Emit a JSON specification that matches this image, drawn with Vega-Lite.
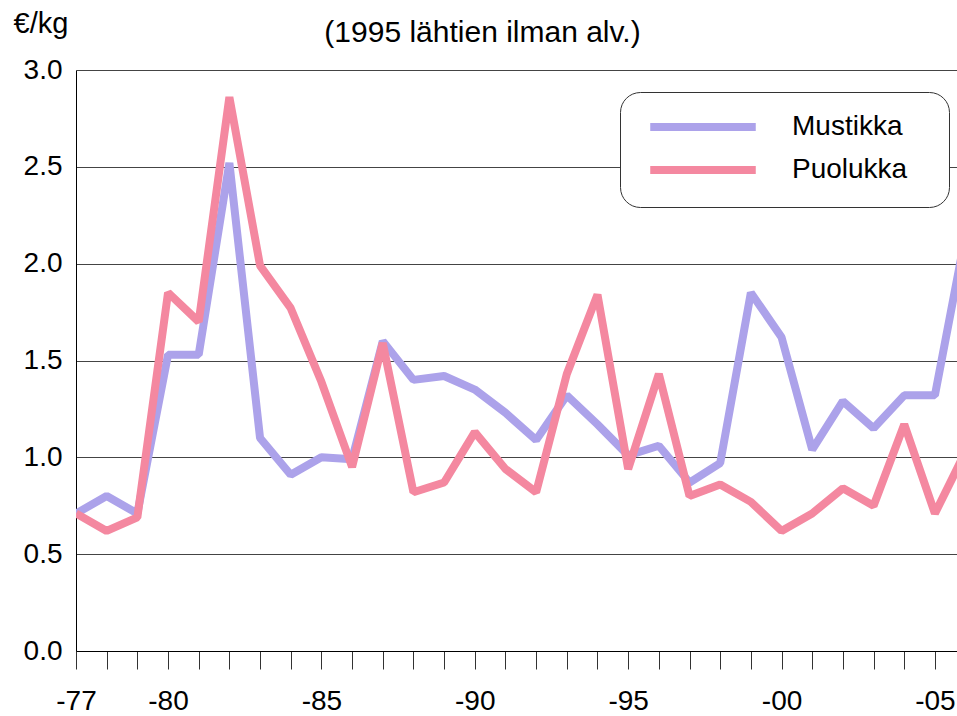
{
  "$schema": "https://vega.github.io/schema/vega-lite/v6.json",
  "width": 881,
  "height": 581,
  "autosize": "none",
  "padding": {"left": 76, "top": 70, "right": 0, "bottom": 65},
  "background": "white",
  "config": {
    "view": {"stroke": null},
    "font": "Liberation Sans"
  },
  "title": {
    "text": "(1995 lähtien ilman alv.)",
    "frame": "group",
    "anchor": "middle",
    "dx": -34,
    "offset": -63,
    "baseline": "alphabetic",
    "fontSize": 30,
    "fontWeight": "normal",
    "font": "Liberation Sans",
    "color": "black"
  },
  "data": {
    "values": [
      {"year": 1977, "series": "Mustikka", "value": 0.71},
      {"year": 1978, "series": "Mustikka", "value": 0.80},
      {"year": 1979, "series": "Mustikka", "value": 0.71},
      {"year": 1980, "series": "Mustikka", "value": 1.53},
      {"year": 1981, "series": "Mustikka", "value": 1.53},
      {"year": 1982, "series": "Mustikka", "value": 2.52},
      {"year": 1983, "series": "Mustikka", "value": 1.10},
      {"year": 1984, "series": "Mustikka", "value": 0.91},
      {"year": 1985, "series": "Mustikka", "value": 1.00},
      {"year": 1986, "series": "Mustikka", "value": 0.99},
      {"year": 1987, "series": "Mustikka", "value": 1.60},
      {"year": 1988, "series": "Mustikka", "value": 1.40},
      {"year": 1989, "series": "Mustikka", "value": 1.42},
      {"year": 1990, "series": "Mustikka", "value": 1.35},
      {"year": 1991, "series": "Mustikka", "value": 1.23},
      {"year": 1992, "series": "Mustikka", "value": 1.09},
      {"year": 1993, "series": "Mustikka", "value": 1.32},
      {"year": 1994, "series": "Mustikka", "value": 1.17},
      {"year": 1995, "series": "Mustikka", "value": 1.01},
      {"year": 1996, "series": "Mustikka", "value": 1.06},
      {"year": 1997, "series": "Mustikka", "value": 0.87},
      {"year": 1998, "series": "Mustikka", "value": 0.97},
      {"year": 1999, "series": "Mustikka", "value": 1.85},
      {"year": 2000, "series": "Mustikka", "value": 1.62},
      {"year": 2001, "series": "Mustikka", "value": 1.04},
      {"year": 2002, "series": "Mustikka", "value": 1.29},
      {"year": 2003, "series": "Mustikka", "value": 1.15},
      {"year": 2004, "series": "Mustikka", "value": 1.32},
      {"year": 2005, "series": "Mustikka", "value": 1.32},
      {"year": 2006, "series": "Mustikka", "value": 2.15},
      {"year": 1977, "series": "Puolukka", "value": 0.71},
      {"year": 1978, "series": "Puolukka", "value": 0.62},
      {"year": 1979, "series": "Puolukka", "value": 0.69},
      {"year": 1980, "series": "Puolukka", "value": 1.85},
      {"year": 1981, "series": "Puolukka", "value": 1.70},
      {"year": 1982, "series": "Puolukka", "value": 2.86},
      {"year": 1983, "series": "Puolukka", "value": 1.99},
      {"year": 1984, "series": "Puolukka", "value": 1.77},
      {"year": 1985, "series": "Puolukka", "value": 1.39},
      {"year": 1986, "series": "Puolukka", "value": 0.95},
      {"year": 1987, "series": "Puolukka", "value": 1.59},
      {"year": 1988, "series": "Puolukka", "value": 0.82},
      {"year": 1989, "series": "Puolukka", "value": 0.87},
      {"year": 1990, "series": "Puolukka", "value": 1.13},
      {"year": 1991, "series": "Puolukka", "value": 0.94},
      {"year": 1992, "series": "Puolukka", "value": 0.82},
      {"year": 1993, "series": "Puolukka", "value": 1.43},
      {"year": 1994, "series": "Puolukka", "value": 1.84},
      {"year": 1995, "series": "Puolukka", "value": 0.94},
      {"year": 1996, "series": "Puolukka", "value": 1.43},
      {"year": 1997, "series": "Puolukka", "value": 0.80},
      {"year": 1998, "series": "Puolukka", "value": 0.86},
      {"year": 1999, "series": "Puolukka", "value": 0.77},
      {"year": 2000, "series": "Puolukka", "value": 0.62},
      {"year": 2001, "series": "Puolukka", "value": 0.71},
      {"year": 2002, "series": "Puolukka", "value": 0.84},
      {"year": 2003, "series": "Puolukka", "value": 0.75},
      {"year": 2004, "series": "Puolukka", "value": 1.17},
      {"year": 2005, "series": "Puolukka", "value": 0.71},
      {"year": 2006, "series": "Puolukka", "value": 1.03}
    ]
  },
  "mark": {"type": "line", "strokeWidth": 8, "strokeJoin": "bevel", "clip": true},
  "encoding": {
    "x": {
      "field": "year",
      "type": "quantitative",
      "scale": {"domain": [1977, 2005.72], "nice": false, "zero": false},
      "axis": {
        "title": null,
        "values": [1977,1978,1979,1980,1981,1982,1983,1984,1985,1986,1987,1988,1989,1990,1991,1992,1993,1994,1995,1996,1997,1998,1999,2000,2001,2002,2003,2004,2005],
        "labelExpr": "datum.value == 1977 || datum.value % 5 == 0 ? '-' + slice(toString(datum.value), 2) : ''",
        "grid": false,
        "domain": true,
        "domainColor": "black",
        "domainWidth": 1,
        "ticks": true,
        "tickSize": 18,
        "tickColor": "#333",
        "tickWidth": 1,
        "labelFont": "Liberation Sans",
        "labelFontSize": 28,
        "labelColor": "black",
        "labelBaseline": "alphabetic",
        "labelPadding": 40,
        "labelFlush": false,
        "labelOverlap": false,
        "labelBound": false
      }
    },
    "y": {
      "field": "value",
      "type": "quantitative",
      "scale": {"domain": [0, 3], "nice": false},
      "axis": {
        "title": "€/kg",
        "titleAngle": 0,
        "titleX": -63,
        "titleY": -38,
        "titleAlign": "left",
        "titleBaseline": "alphabetic",
        "titleFont": "Liberation Sans",
        "titleFontSize": 29,
        "titleFontWeight": "normal",
        "titleColor": "black",
        "values": [0, 0.5, 1, 1.5, 2, 2.5, 3],
        "format": ".1f",
        "grid": true,
        "gridColor": "#444",
        "gridWidth": 1,
        "domain": true,
        "domainColor": "black",
        "ticks": false,
        "labelPadding": 14,
        "labelFont": "Liberation Sans",
        "labelFontSize": 28,
        "labelColor": "black"
      }
    },
    "color": {
      "field": "series",
      "type": "nominal",
      "scale": {"domain": ["Mustikka", "Puolukka"], "range": ["#ACA2EA", "#F488A0"]},
      "legend": {
        "title": "\u2003",
        "titleOrient": "right",
        "titleFontSize": 10,
        "titlePadding": 21,
        "orient": "none",
        "legendX": 544,
        "legendY": 22,
        "padding": 21,
        "cornerRadius": 20,
        "strokeColor": "#333",
        "fillColor": "white",
        "symbolType": "M-8,0H8",
        "symbolSize": 174,
        "symbolStrokeWidth": 8,
        "symbolOffset": 48,
        "labelOffset": 75,
        "labelFont": "Liberation Sans",
        "labelFontSize": 28,
        "labelColor": "black",
        "labelBaseline": "middle",
        "rowPadding": 11
      }
    }
  }
}
